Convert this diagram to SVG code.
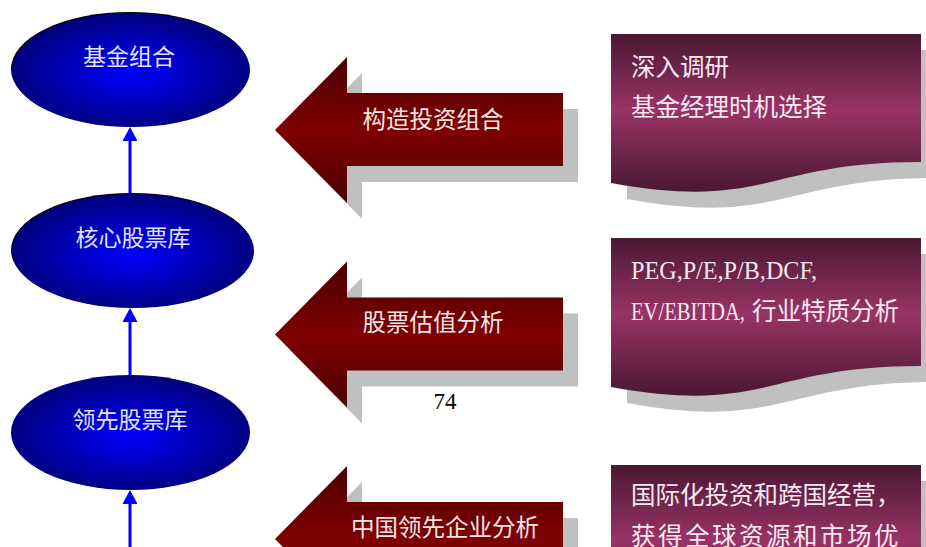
<svg xmlns="http://www.w3.org/2000/svg" xmlns:xlink="http://www.w3.org/1999/xlink" width="926" height="547" viewBox="0 0 926 547">
<style>
.etxt{font-family:"Noto Sans CJK SC","Noto Sans",sans-serif;font-size:23px;fill:#e2e2f4;text-anchor:middle}
.atxt{font-family:"Noto Sans CJK SC","Noto Sans",sans-serif;font-size:23.5px;fill:#f2e4e4;text-anchor:middle}
.btxt{font-family:"Liberation Serif","Noto Sans CJK SC",serif;font-size:24.5px;fill:#f6e8f0}
.conn{stroke:#0000ff;stroke-width:3;fill:none;marker-end:url(#ah)}
.shadow{fill:#c0c0c0}
</style>
<defs>
<radialGradient id="gEll" cx="0.5" cy="0.52" r="0.5">
<stop offset="0" stop-color="#0000ff"/>
<stop offset="1" stop-color="#000080"/>
</radialGradient>
<linearGradient id="gArrow" x1="0" y1="0" x2="0" y2="1">
<stop offset="0" stop-color="#4a0000"/>
<stop offset="0.5" stop-color="#800000"/>
<stop offset="1" stop-color="#4a0000"/>
</linearGradient>
<linearGradient id="gBox" x1="0" y1="0" x2="0" y2="1">
<stop offset="0" stop-color="#4a1832"/>
<stop offset="0.48" stop-color="#993366"/>
<stop offset="1" stop-color="#4a1832"/>
</linearGradient>
<path id="arrowShape" d="M275,130 L347,57 L347,93 L563,93 L563,166 L347,166 L347,203 Z"/>
<path id="boxShape" d="M611,34 H921 V162 C766,162 766,211 611,183 Z"/>
<marker id="ah" viewBox="0 0 15 14" refX="4" refY="7.5" markerWidth="15" markerHeight="15" markerUnits="userSpaceOnUse" orient="auto">
<path d="M0,0 L14,7.5 L0,15 Z" fill="#0000ff"/>
</marker>
</defs>
<rect width="926" height="547" fill="#ffffff"/>

<g id="connectors">
<line class="conn" x1="130" y1="193" x2="130" y2="137"/>
<line class="conn" x1="130" y1="375" x2="130" y2="318"/>
<line class="conn" x1="130" y1="547" x2="130" y2="500"/>
</g>

<g id="node-jijinzuhe">
<ellipse cx="130" cy="69" rx="119" ry="57" fill="#000000"/>
<ellipse cx="131" cy="70" rx="119" ry="57" fill="url(#gEll)"/>
<text class="etxt" x="129" y="65">基金组合</text>
</g>
<g id="node-hexin">
<ellipse cx="132" cy="250" rx="121" ry="57" fill="#000000"/>
<ellipse cx="133" cy="251" rx="121" ry="57" fill="url(#gEll)"/>
<text class="etxt" x="133" y="246">核心股票库</text>
</g>
<g id="node-lingxian">
<ellipse cx="130.5" cy="432.5" rx="119.5" ry="57.5" fill="url(#gEll)"/>
<text class="etxt" x="130" y="428">领先股票库</text>
</g>

<g id="arrow-goucao">
<use xlink:href="#arrowShape" class="shadow" transform="translate(15,16)"/>
<use xlink:href="#arrowShape" fill="url(#gArrow)"/>
<text class="atxt" x="433" y="128">构造投资组合</text>
</g>
<g id="arrow-guzhi">
<use xlink:href="#arrowShape" class="shadow" transform="translate(15,220.5)"/>
<use xlink:href="#arrowShape" fill="url(#gArrow)" transform="translate(0,204.5)"/>
<text class="atxt" x="433" y="331">股票估值分析</text>
</g>
<g id="arrow-zhongguo">
<use xlink:href="#arrowShape" class="shadow" transform="translate(15,425)"/>
<use xlink:href="#arrowShape" fill="url(#gArrow)" transform="translate(0,409)"/>
<text class="atxt" x="445" y="536">中国领先企业分析</text>
</g>

<text id="page-number" x="445" y="409" font-family="Liberation Serif, serif" font-size="23" fill="#000000" text-anchor="middle">74</text>

<g id="box-research">
<use xlink:href="#boxShape" class="shadow" transform="translate(16,16)"/>
<use xlink:href="#boxShape" fill="url(#gBox)"/>
<text class="btxt" x="631" y="76">深入调研</text>
<text class="btxt" x="631" y="116">基金经理时机选择</text>
</g>
<g id="box-valuation">
<use xlink:href="#boxShape" class="shadow" transform="translate(16,220)"/>
<use xlink:href="#boxShape" fill="url(#gBox)" transform="translate(0,204)"/>
<text class="btxt" x="631" y="279" font-size="25" textLength="186" lengthAdjust="spacingAndGlyphs">PEG,P/E,P/B,DCF,</text>
<text class="btxt" x="631" y="320"><tspan font-size="25" textLength="114" lengthAdjust="spacingAndGlyphs">EV/EBITDA,</tspan><tspan x="752">行业特质分析</tspan></text>
</g>
<g id="box-global">
<use xlink:href="#boxShape" class="shadow" transform="translate(16,447)"/>
<use xlink:href="#boxShape" fill="url(#gBox)" transform="translate(0,431)"/>
<text class="btxt" x="631" y="504">国际化投资和跨国经营，</text>
<text class="btxt" x="631" y="545" letter-spacing="2.5">获得全球资源和市场优</text>
</g>
</svg>
